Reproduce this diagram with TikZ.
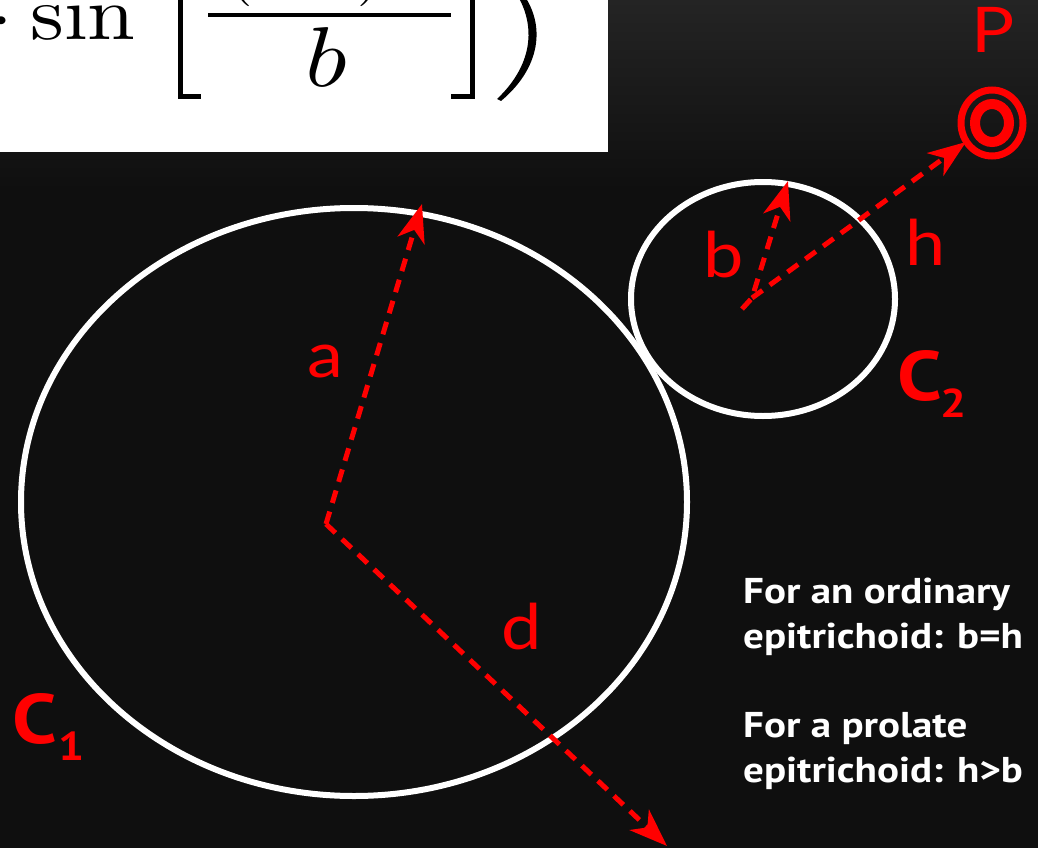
\documentclass[tikz,border=0pt]{standalone}
\usepackage{fontspec}
\usetikzlibrary{arrows.meta}
\newfontfamily\labfont{Lato}
\newfontfamily\ptfont{PT Sans}
\newcommand\vsq[1]{\scalebox{1}[0.875]{#1}}
\definecolor{bgdark}{RGB}{15,15,15}
\definecolor{bgtop}{RGB}{36,36,36}
\definecolor{lab}{RGB}{255,0,0}
\begin{document}
\begin{tikzpicture}[x=1pt,y=-1pt,
  ring/.style={draw=white,line width=6pt},
  vec/.style={draw=lab,line width=5pt,dash pattern=on 13pt off 9pt,-{Stealth[length=38pt,width=28pt,inset=11pt]}},
  rlabel/.style={text=lab,inner sep=0pt,anchor=base,font=\labfont\fontsize{72}{72}\selectfont},
  clabel/.style={text=lab,inner sep=0pt,anchor=base west,font=\ptfont\bfseries\fontsize{80}{80}\selectfont},
  csub/.style={text=lab,inner sep=0pt,anchor=base west,font=\ptfont\bfseries\fontsize{46}{46}\selectfont},
  note/.style={text=white,inner sep=0pt,anchor=base west,font=\ptfont\bfseries\fontsize{41}{41}\selectfont},
  mathpart/.style={inner sep=0pt,text=black},
  mline/.style={draw=black,line width=5pt,line join=miter}]
\useasboundingbox (0,0) rectangle (1038,848);
\fill[bgdark] (0,0) rectangle (1038,848);
\shade[top color=bgtop,bottom color=bgdark] (0,0) rectangle (1038,190);
% formula box
\begin{scope}
\clip (0,0) rectangle (608,152);
\fill[white] (0,0) rectangle (608,152);
\node[mathpart,anchor=base east] (dot) at (14,40) {\scalebox{8.6}[7.5]{$\cdot$}};
\node[mathpart,anchor=base west] (sin) at (30,40) {\scalebox{8.6}[7.6]{$\sin$}};
\draw[mline] (180,-10) -- (180,97) -- (201,97);
\draw[draw=black,line width=4pt] (208,15) -- (451,15);
\node[mathpart,anchor=base] (num) at (305,-6) {\scalebox{6}[5.25]{$(a{+}b)$}};
\node[mathpart,anchor=base] (den) at (326,87) {\scalebox{9.7}[8.49]{$b$}};
\draw[mline] (472,-10) -- (472,97) -- (451,97);
\fill[black] (520,-10) .. controls (545,20) and (544,65) .. (501,101)
  -- (497,99) .. controls (535,63) and (536,22) .. (514,-10) -- cycle;
\end{scope}
% circles
\coordinate (c1) at (354,502);
\coordinate (c2) at (763,299);
\draw[ring] (c1) ellipse [x radius=333, y radius=294];
\draw[ring] (c2) ellipse [x radius=132, y radius=117];
% point P
\coordinate (pc) at (992,123);
\draw[draw=lab,line width=7pt] (pc) ellipse [x radius=31, y radius=33];
\draw[draw=lab,line width=10pt] (pc) ellipse [x radius=17, y radius=19];
% vectors
\coordinate (a0) at (326,524);
\coordinate (atip) at (422,204);
\coordinate (dtip) at (667,846);
\coordinate (bstart) at (742,309);
\coordinate (bkink) at (752,298);
\coordinate (btip) at (788,181);
\coordinate (htip) at (966,142);
\draw[vec] (a0) -- (atip);
\draw[vec] (a0) -- (dtip);
\draw[vec] (bstart) -- (bkink) -- (btip);
\draw[vec] (bkink) -- (htip);
% labels
\node[rlabel] (lP) at (993,53) {\vsq{P}};
\node[rlabel] (la) at (325,377) {\vsq{a}};
\node[rlabel] (lb) at (724,277) {\vsq{b}};
\node[rlabel] (lh) at (926,265) {\vsq{h}};
\node[rlabel] (ld) at (522,649) {\vsq{d}};
\node[clabel] (C1) at (12,743) {\vsq{C}};
\node[csub] (C1s) at (58,760) {\vsq{1}};
\node[clabel] (C2) at (897,400) {\vsq{C}};
\node[csub] (C2s) at (940,417) {\vsq{2}};
% notes
\node[note] (n1) at (743,603) {\vsq{For an ordinary}};
\node[note] (n2) at (743,648) {\vsq{epitrichoid: b=h}};
\node[note] (n3) at (743,737) {\vsq{For a prolate}};
\node[note] (n4) at (743,782) {\vsq{epitrichoid: h>b}};
\end{tikzpicture}
\end{document}
